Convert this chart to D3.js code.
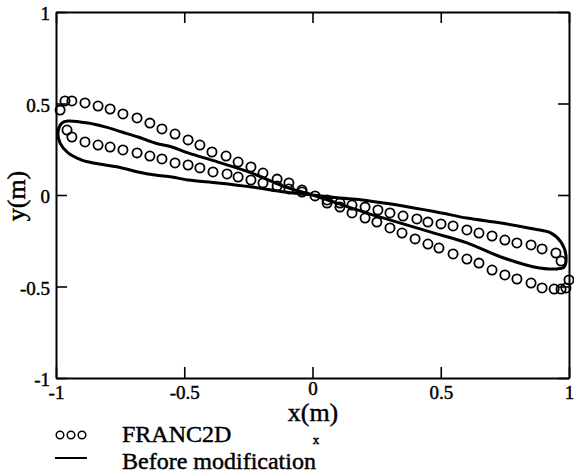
<!DOCTYPE html>
<html>
<head>
<meta charset="utf-8">
<script src="https://cdn.jsdelivr.net/npm/d3@7"></script>
<style>
body { margin: 0; background: #fff; }
text { font-family: "Liberation Serif", "DejaVu Serif", serif; fill: #000; stroke: #000; stroke-width: 0.45px; }
</style>
</head>
<body>
<div id="vis"></div>
<script>
var w = 574;
var h = 475;

// FRANC2D circles, steep branch (upper left -> lower right)
var steepX = [-0.984,-0.965,-0.938,-0.887,-0.836,-0.789,-0.739,-0.684,-0.634,-0.587,-0.536,-0.485,-0.439,-0.392,-0.337,-0.290,-0.240,-0.193,-0.138,-0.092,-0.041,0.010,0.057,0.107,0.154,0.205,0.251,0.302,0.349,0.400,0.450,0.493,0.548,0.602,0.649,0.700,0.750,0.797,0.852,0.895,0.942,0.969,0.988,1.0];
var steepY = [0.464,0.514,0.514,0.503,0.486,0.470,0.443,0.421,0.393,0.361,0.333,0.301,0.273,0.235,0.213,0.180,0.153,0.120,0.087,0.066,0.027,-0.005,-0.044,-0.066,-0.098,-0.126,-0.148,-0.180,-0.208,-0.240,-0.268,-0.290,-0.322,-0.350,-0.372,-0.410,-0.437,-0.459,-0.481,-0.508,-0.514,-0.514,-0.508,-0.464];
// FRANC2D circles, shallow branch
var shallowX = [-0.957,-0.938,-0.887,-0.836,-0.789,-0.739,-0.684,-0.634,-0.587,-0.536,-0.485,-0.439,-0.388,-0.333,-0.290,-0.240,-0.193,-0.138,-0.092,-0.041,0.057,0.107,0.154,0.205,0.255,0.302,0.353,0.407,0.450,0.501,0.548,0.602,0.649,0.700,0.750,0.797,0.852,0.895,0.949,0.969];
var shallowY = [0.355,0.317,0.290,0.273,0.262,0.246,0.230,0.213,0.197,0.175,0.164,0.148,0.126,0.115,0.098,0.082,0.066,0.049,0.033,0.016,-0.027,-0.044,-0.055,-0.066,-0.082,-0.098,-0.115,-0.131,-0.148,-0.158,-0.169,-0.191,-0.208,-0.224,-0.246,-0.262,-0.273,-0.295,-0.317,-0.361];

// "Before modification" closed loop, traced from the left tip
var beforeX = [-0.992,-0.977,-0.953,-0.875,-0.809,-0.743,-0.680,-0.614,-0.548,-0.485,-0.368,-0.236,-0.107,0,0.107,0.21,0.474,0.602,0.735,0.864,0.953,0.981,0.988,0.969,0.930,0.864,0.735,0.602,0.474,0.21,0.107,0,-0.107,-0.236,-0.368,-0.485,-0.548,-0.614,-0.680,-0.743,-0.809,-0.899,-0.953,-0.984];
var beforeY = [0.344,0.393,0.404,0.393,0.372,0.344,0.317,0.284,0.262,0.230,0.180,0.120,0.044,0,-0.05,-0.098,-0.208,-0.262,-0.339,-0.393,-0.404,-0.393,-0.328,-0.257,-0.208,-0.186,-0.153,-0.126,-0.09,-0.03,-0.016,0,0.016,0.044,0.066,0.082,0.098,0.109,0.126,0.148,0.164,0.191,0.230,0.284];

var xTicks = [-1, -0.5, 0, 0.5, 1];
var yTicks = [-1, -0.5, 0, 0.5, 1];
var tickLabels = {"-1": "-1", "-0.5": "-0.5", "0": "0", "0.5": "0.5", "1": "1"};

var padL = 56, padR = 569, padT = 12, padB = 378;

var x = d3.scaleLinear().domain([-1, 1]).range([padL, padR]);
var y = d3.scaleLinear().domain([-1, 1]).range([padB, padT]);

var svg = d3.select("#vis").append("svg")
    .attr("width", w)
    .attr("height", h);

function fmt(d) { return tickLabels[String(d)]; }

// axes, ticks pointing inward
var xAxis = svg.append("g")
    .attr("transform", "translate(0," + padB + ")")
    .call(d3.axisBottom(x).tickValues(xTicks).tickFormat(fmt).tickSizeInner(-11).tickSizeOuter(0).tickPadding(8));
var yAxis = svg.append("g")
    .attr("transform", "translate(" + padL + ",0)")
    .call(d3.axisLeft(y).tickValues(yTicks).tickFormat(fmt).tickSizeInner(-11).tickSizeOuter(0).tickPadding(6));
svg.append("g")
    .attr("transform", "translate(0," + padT + ")")
    .call(d3.axisTop(x).tickValues(xTicks).tickFormat("").tickSizeInner(-11).tickSizeOuter(0));
svg.append("g")
    .attr("transform", "translate(" + padR + ",0)")
    .call(d3.axisRight(y).tickValues(yTicks).tickFormat("").tickSizeInner(-11).tickSizeOuter(0));

svg.selectAll("g").attr("font-family", "Liberation Serif").attr("font-size", 19);
svg.selectAll(".domain").attr("stroke", "#000").attr("stroke-width", 2);
svg.selectAll(".tick line").attr("stroke", "#000").attr("stroke-width", 1.6);
svg.selectAll(".tick text")
    .style("font-family", "'Liberation Serif', serif")
    .style("font-size", "19px")
    .attr("fill", "#000");
xAxis.selectAll(".tick text").filter(d => d == 0).attr("y", 4);
yAxis.selectAll(".tick text").attr("dy", "0.4em");

// before modification curve
var line = d3.line()
    .x(function(d) { return x(d[0]); })
    .y(function(d) { return y(d[1]); })
    .curve(d3.curveCatmullRomClosed.alpha(0.5));

var beforePts = beforeX.map(function(v, i) { return [v, beforeY[i]]; });
svg.append("path")
    .attr("d", line(beforePts))
    .attr("fill", "none")
    .attr("stroke", "#000")
    .attr("stroke-width", 3)
    .attr("stroke-linejoin", "round");

// FRANC2D circles
var francPts = steepX.map(function(v, i) { return [v, steepY[i]]; })
    .concat(shallowX.map(function(v, i) { return [v, shallowY[i]]; }));
svg.append("g").selectAll("circle")
    .data(francPts)
    .enter()
    .append("circle")
    .attr("cx", d => x(d[0]))
    .attr("cy", d => y(d[1]))
    .attr("r", 4.6)
    .attr("fill", "none")
    .attr("stroke", "#000")
    .attr("stroke-width", 1.8);

// axis titles
svg.append("text")
    .attr("x", 313)
    .attr("y", 421)
    .attr("text-anchor", "middle")
    .style("font-size", "26px")
    .text("x(m)");
svg.append("text")
    .attr("x", 316)
    .attr("y", 444)
    .attr("text-anchor", "middle")
    .style("font-size", "13px")
    .text("x");
svg.append("text")
    .attr("transform", "translate(25,196) rotate(-90)")
    .attr("text-anchor", "middle")
    .style("font-size", "26px")
    .text("y(m)");

// legend
var legend = svg.append("g");
legend.selectAll("circle")
    .data([60, 71, 82])
    .enter()
    .append("circle")
    .attr("cx", d => d)
    .attr("cy", 435)
    .attr("r", 3.8)
    .attr("fill", "none")
    .attr("stroke", "#000")
    .attr("stroke-width", 1.5);
legend.append("text")
    .attr("x", 122)
    .attr("y", 442)
    .style("font-size", "24px")
    .text("FRANC2D");
legend.append("line")
    .attr("x1", 55).attr("x2", 87)
    .attr("y1", 458).attr("y2", 458)
    .attr("stroke", "#000")
    .attr("stroke-width", 2);
legend.append("text")
    .attr("x", 122)
    .attr("y", 469)
    .style("font-size", "24px")
    .text("Before modification");
</script>
</body>
</html>
